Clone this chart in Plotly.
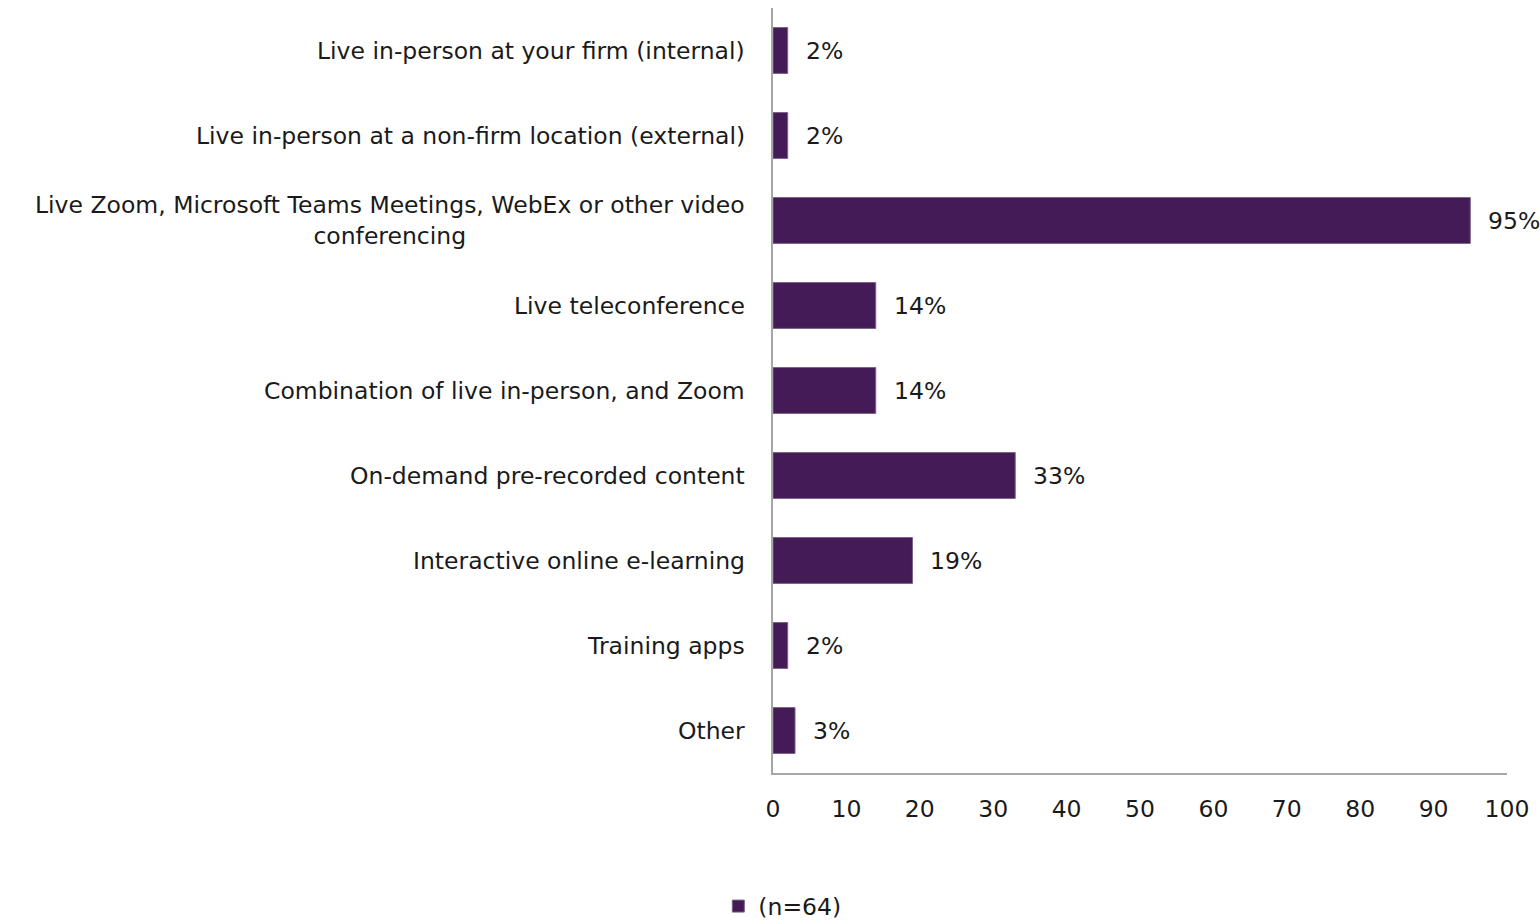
import plotly.graph_objects as go

# Survey: formats used for training delivery (share of respondents, %)
categories = [
    "Live in-person at your firm (internal)",
    "Live in-person at a non-firm location (external)",
    "Live Zoom, Microsoft Teams Meetings, WebEx or other video<br>conferencing",
    "Live teleconference",
    "Combination of live in-person, and Zoom",
    "On-demand pre-recorded content",
    "Interactive online e-learning",
    "Training apps",
    "Other",
]
values = [2, 2, 95, 14, 14, 33, 19, 2, 3]
series_name = "(n=64)"
x_ticks = [0, 10, 20, 30, 40, 50, 60, 70, 80, 90, 100]

BAR = "#441a57"
FONT = "DejaVu Sans, sans-serif"
TXT = "#1a1a1a"
FS = 23.5

fig = go.Figure()
fig.add_trace(go.Bar(
    y=categories,
    x=values,
    orientation="h",
    name=series_name,
    marker=dict(color=BAR, line=dict(color="#7a6386", width=1)),
    showlegend=True,
    hoverinfo="x+y",
))

annotations = []
# category labels (centered lines, right-aligned block)
for cat in categories:
    annotations.append(dict(
        x=0, xref="paper", y=cat, yref="y",
        text=cat, showarrow=False, xanchor="right", yanchor="middle",
        align="center", xshift=-26,
        font=dict(family=FONT, size=FS, color=TXT),
    ))
# value labels
for cat, v in zip(categories, values):
    annotations.append(dict(
        x=v, xref="x", y=cat, yref="y",
        text=f"{v}%", showarrow=False, xanchor="left", yanchor="middle",
        xshift=16,
        font=dict(family=FONT, size=FS, color=TXT),
    ))

fig.update_layout(
    width=1540, height=922,
    margin=dict(l=773, r=33, t=8, b=149),
    paper_bgcolor="white", plot_bgcolor="white",
    bargap=0.46,
    font=dict(family=FONT, size=FS, color=TXT),
    annotations=annotations,
    showlegend=True,
    legend=dict(
        orientation="h",
        xref="container", yref="container",
        x=0.508, y=0.017, xanchor="center", yanchor="middle",
        font=dict(family=FONT, size=FS, color=TXT),
        itemwidth=30,
    ),
    xaxis=dict(
        range=[0, 100], tickvals=x_ticks, ticktext=[str(t) for t in x_ticks],
        showgrid=False, zeroline=False,
        showline=True, linecolor="#a6a6a6", linewidth=2,
        ticks="", ticklabelstandoff=14,
        tickfont=dict(family=FONT, size=FS, color=TXT),
        fixedrange=True,
    ),
    yaxis=dict(
        categoryorder="array", categoryarray=categories[::-1],
        showgrid=False, zeroline=False,
        showline=True, linecolor="#a6a6a6", linewidth=2,
        ticks="", showticklabels=False,
        fixedrange=True,
    ),
)

fig.write_html("out.html")
